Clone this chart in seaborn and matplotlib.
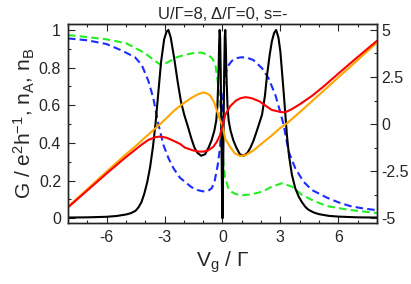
import matplotlib
matplotlib.use("Agg")
import matplotlib.pyplot as plt
from matplotlib.ticker import MultipleLocator, FormatStrFormatter
import seaborn as sns

# === Data (Vg / Gamma on x) ===
# conductance G (left axis)
vg_G = [-8, -7, -6, -5.5, -5, -4.75, -4.5, -4.35, -4.2, -4.05, -3.9, -3.75, -3.6, -3.46,
        -3.32, -3.18, -3.02, -2.9, -2.8, -2.68, -2.5, -2.32, -2.15, -1.98, -1.8, -1.6,
        -1.45, -1.3, -1.1, -0.9, -0.72, -0.56, -0.42, -0.32, -0.26, -0.21, -0.17, -0.145,
        -0.12, -0.09, -0.06, -0.035, -0.015, 0, 0.015, 0.035, 0.06, 0.09, 0.12, 0.145,
        0.17, 0.21, 0.26, 0.32, 0.42, 0.56, 0.72, 0.9, 1.1, 1.3, 1.45, 1.6, 1.8, 2.05,
        2.2, 2.31, 2.45, 2.56, 2.68, 2.78, 2.9, 3.0, 3.17, 3.34, 3.45, 3.6, 3.77, 3.95,
        4.12, 4.3, 4.46, 4.75, 5, 5.5, 6, 7, 8]
G = [0.004, 0.005, 0.008, 0.012, 0.02, 0.027, 0.04, 0.058, 0.085, 0.13, 0.19, 0.27, 0.38, 0.51,
     0.67, 0.83, 0.95, 0.99, 1.0, 0.96, 0.85, 0.725, 0.62, 0.55, 0.49, 0.42,
     0.375, 0.348, 0.332, 0.34, 0.375, 0.415, 0.465, 0.52, 0.6, 0.75, 0.93, 1.0,
     0.96, 0.78, 0.5, 0.25, 0.08, 0.0, 0.08, 0.25, 0.5, 0.78, 0.96, 1.0,
     0.93, 0.75, 0.6, 0.52, 0.465, 0.415, 0.375, 0.34, 0.332, 0.348, 0.375, 0.41, 0.47, 0.55,
     0.65, 0.76, 0.87, 0.94, 0.985, 1.0, 0.96, 0.885, 0.67, 0.44, 0.33, 0.23, 0.16, 0.115,
     0.085, 0.06, 0.045, 0.03, 0.022, 0.013, 0.009, 0.005, 0.004]

# occupation n_B (blue dashed, left axis)
vg_nB = [-8, -7, -6, -5.2, -4.53, -4.18, -3.84, -3.58, -3.32, -3.06, -2.8, -2.54, -2.2,
         -1.9, -1.6, -1.3, -1.0, -0.75, -0.55, -0.4, -0.25, -0.13, -0.05, 0.0, 0.08,
         0.17, 0.3, 0.48, 0.7, 1.0, 1.3, 1.6, 2.05, 2.39, 2.74, 2.99, 3.17, 3.43, 3.77,
         4.2, 4.64, 5.4, 6, 6.6, 7.3, 8]
nB = [0.955, 0.945, 0.925, 0.89, 0.855, 0.814, 0.73, 0.637, 0.5, 0.39, 0.32, 0.266, 0.215,
      0.19, 0.165, 0.15, 0.143, 0.145, 0.16, 0.2, 0.28, 0.37, 0.5, 0.6, 0.7,
      0.77, 0.81, 0.835, 0.85, 0.855, 0.852, 0.84, 0.797, 0.743, 0.655, 0.566, 0.495, 0.354, 0.266,
      0.194, 0.15, 0.11, 0.085, 0.065, 0.052, 0.043]

# occupation n_A (green dashed, left axis)
vg_nA = [-8, -7, -6, -5, -4.53, -4.01, -3.49, -3.15, -2.8, -2.37, -1.94, -1.5, -1.1,
         -0.73, -0.5, -0.35, -0.25, -0.15, -0.08, 0, 0.06, 0.13, 0.3, 0.48, 0.7, 1.0,
         1.5, 2.05, 2.56, 3.08, 3.6, 4.12, 4.64, 5.4, 6.6, 8]
nA = [0.973, 0.962, 0.95, 0.93, 0.905, 0.876, 0.835, 0.812, 0.83, 0.855, 0.868, 0.877, 0.88,
      0.867, 0.845, 0.805, 0.73, 0.64, 0.5, 0.37, 0.28, 0.22, 0.16, 0.14, 0.128, 0.122,
      0.127, 0.141, 0.168, 0.186, 0.168, 0.124, 0.097, 0.065, 0.044, 0.028]

# red curve (right axis)
vg_red = [-8, -7, -6, -5, -4.53, -4.2, -3.84, -3.5, -3.24, -2.9, -2.63, -2.2, -1.94,
          -1.51, -1.2, -0.99, -0.75, -0.47, -0.3, -0.13, 0, 0.15, 0.4, 0.7, 0.95, 1.2,
          1.5, 1.94, 2.05, 2.56, 3.08, 3.3, 3.6, 4.0, 4.64, 5.3, 6, 7, 8]
red = [-4.42, -3.52, -2.62, -1.75, -1.37, -1.1, -0.84, -0.7, -0.66, -0.72, -0.84, -1.05, -1.25,
       -1.4, -1.46, -1.46, -1.4, -1.2, -0.95, -0.6, -0.1, 0.5, 0.95, 1.25, 1.38, 1.43,
       1.38, 1.2, 1.11, 0.75, 0.63, 0.65, 0.8, 1.05, 1.5, 2.05, 2.68, 3.56, 4.42]

# orange curve (right axis)
vg_orange = [-8, -7, -6, -5, -4.53, -4, -3.36, -3, -2.5, -2, -1.6, -1.3, -1.0, -0.8,
             -0.64, -0.45, -0.3, -0.15, 0, 0.15, 0.39, 0.64, 0.91, 1.2, 1.6, 2.05, 2.5,
             3.0, 3.34, 4, 5, 6, 7, 8]
orange = [-4.38, -3.45, -2.52, -1.6, -1.2, -0.7, -0.12, 0.22, 0.72, 1.12, 1.4, 1.57, 1.68, 1.63,
          1.52, 1.2, 0.75, 0.3, -0.1, -0.8, -1.2, -1.55, -1.69, -1.65, -1.4, -1.02, -0.65,
          -0.2, 0.04, 0.63, 1.55, 2.48, 3.4, 4.33]

x_ticks = [-6, -3, 0, 3, 6]

# === Style ===
sns.set_style("ticks")
plt.rcParams["font.family"] = ["Liberation Sans", "DejaVu Sans"]
plt.rcParams["mathtext.fontset"] = "custom"
plt.rcParams["mathtext.rm"] = "Liberation Sans"
plt.rcParams["mathtext.it"] = "Liberation Sans"
plt.rcParams["mathtext.default"] = "regular"
plt.rcParams["axes.unicode_minus"] = False

fig = plt.figure(figsize=(4.11, 2.84), dpi=100)
ax = fig.add_axes([0.1655, 0.2148, 0.7515, 0.699])
ax2 = ax.twinx()

lw = 1.5
dash = (0, (3.6, 2.0))
sns.lineplot(x=vg_nA, y=nA, ax=ax, color="#22ee22", lw=lw, linestyle=dash, estimator=None)
sns.lineplot(x=vg_nB, y=nB, ax=ax, color="#1a2cff", lw=lw, linestyle=dash, estimator=None)
sns.lineplot(x=vg_G, y=G, ax=ax, color="black", lw=lw, estimator=None)
sns.lineplot(x=vg_orange, y=orange, ax=ax2, color="#ffa500", lw=lw, estimator=None)
sns.lineplot(x=vg_red, y=red, ax=ax2, color="#ff0000", lw=lw, estimator=None)

ax.set_xlim(-8, 8)
ax.set_ylim(-0.025, 1.029)
ax2.set_ylim(-5.25, 5.29)

ax.set_xticks(x_ticks)
ax.xaxis.set_minor_locator(MultipleLocator(1))
ax.yaxis.set_major_locator(MultipleLocator(0.2))
ax.yaxis.set_minor_locator(MultipleLocator(0.1))
ax.yaxis.set_major_formatter(FormatStrFormatter("%g"))
ax2.yaxis.set_major_locator(MultipleLocator(2.5))
ax2.yaxis.set_minor_locator(MultipleLocator(1.25))
ax2.yaxis.set_major_formatter(FormatStrFormatter("%g"))

ax.tick_params(axis="x", which="both", direction="in", top=True, labelsize=11.5, pad=5)
ax.tick_params(axis="y", which="both", direction="in", right=False, labelsize=11.5, pad=5)
ax2.tick_params(axis="y", which="both", direction="in", labelsize=11.5, pad=3)
for a in (ax, ax2):
    a.tick_params(which="major", length=5, width=0.8)
    a.tick_params(which="minor", length=2.5, width=0.8)
    for s in a.spines.values():
        s.set_linewidth(1.0)
        s.set_color("#222222")

ax.set_xlabel(r"V$_g$ / Γ", fontsize=15, labelpad=3)
ax.set_ylabel(r"G / e$^2$h$^{-1}$, n$_A$, n$_B$", fontsize=15, labelpad=1)
ax.set_title("U/Γ=8, Δ/Γ=0, s=-", fontsize=12, pad=4)
ax2.set_ylabel("")

fig.savefig("out.png", dpi=100)
